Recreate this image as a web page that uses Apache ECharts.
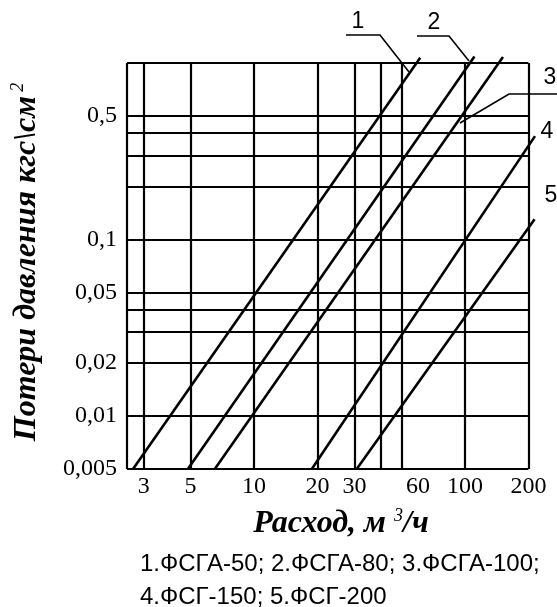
<!DOCTYPE html>
<html lang="ru">

<head>
    <meta charset="UTF-8">
    <title>Потери давления</title>
    <style>
        * {
            margin: 0;
            padding: 0;
        }

        body {
            background: #fff;
        }

        #chart {
            width: 557px;
            height: 607px;
        }
    </style>
</head>

<body>
    <div id="chart"></div>
    <script src="https://cdn.jsdelivr.net/npm/echarts@6.0.0/dist/echarts.min.js"></script>
    <script type="text/javascript">
        // расход, м3/ч и потери давления, кгс/см2 (начало и конец каждой прямой)
        var seriesNames = ['ФСГА-50', 'ФСГА-80', 'ФСГА-100', 'ФСГ-150', 'ФСГ-200'];
        var flow1 = [2.67, 61.4];
        var loss1 = [0.005, 1.07];
        var flow2 = [4.86, 111];
        var loss2 = [0.005, 1.09];
        var flow3 = [6.52, 151.5];
        var loss3 = [0.005, 1.08];
        var flow4 = [18.8, 215];
        var loss4 = [0.005, 0.385];
        var flow5 = [30.7, 214];
        var loss5 = [0.005, 0.13];

        // сетка и подписи осей
        var xGrid = [3, 5, 10, 20, 30, 40, 50, 100];
        var xTickLabels = [3, 5, 10, 20, 30, 60, 100, 200];
        var yGrid = [0.01, 0.02, 0.03, 0.04, 0.05, 0.1, 0.2, 0.3, 0.4, 0.5];
        var yTickLabels = [0.005, 0.01, 0.02, 0.05, 0.1, 0.5];
        // рамка поля графика
        var xFrame = [2.5, 200];
        var yFrame = [0.005, 1];

        var flows = [flow1, flow2, flow3, flow4, flow5];
        var losses = [loss1, loss2, loss3, loss4, loss5];

        var serif = 'Liberation Serif';
        var sans = 'Liberation Sans';

        var chart = echarts.init(document.getElementById('chart'));

        var series = seriesNames.map(function (name, i) {
            return {
                name: name,
                type: 'line',
                data: flows[i].map(function (q, j) { return [q, losses[i][j]]; }),
                symbol: 'none',
                clip: false,
                silent: true,
                lineStyle: { color: '#000', width: 2.6 }
            };
        });

        // рамка и горизонтальная сетка через markLine: линии 4 и 5 выходят за рамку справа
        var frameLines = [
            [{ coord: [xFrame[0], yFrame[1]] }, { coord: [xFrame[1], yFrame[1]] }],
            [{ coord: [xFrame[1], yFrame[0]] }, { coord: [xFrame[1], yFrame[1]] }],
            [{ coord: [xFrame[0], yFrame[0]] }, { coord: [xFrame[1], yFrame[0]] }],
            [{ coord: [xFrame[0], yFrame[0]] }, { coord: [xFrame[0], yFrame[1]] }]
        ];
        var hLines = yGrid.map(function (v) {
            return [{ coord: [xFrame[0], v] }, { coord: [xFrame[1], v] }];
        });
        series[0].markLine = {
            symbol: 'none',
            silent: true,
            label: { show: false },
            lineStyle: { color: '#000', width: 2.2, type: 'solid' },
            data: frameLines.concat(hLines)
        };

        // номера линий и выноски
        function num(text, x, y) {
            return {
                type: 'text', x: x, y: y,
                style: { text: text, font: '23px ' + sans, fill: '#000', align: 'center', verticalAlign: 'middle' }
            };
        }
        function leader(points) {
            return {
                type: 'polyline',
                shape: { points: points },
                style: { stroke: '#000', lineWidth: 1.6, fill: null }
            };
        }

        var option = {
            animation: false,
            backgroundColor: '#fff',
            grid: {
                left: 127, top: 63, width: 408, height: 406
            },
            xAxis: {
                type: 'log',
                min: 2.5,
                max: 215,
                name: '{b|Расход, м }{s|3}{b|/ч}',
                nameLocation: 'middle',
                nameGap: 38,
                nameTextStyle: {
                    padding: [0, 0, 0, 20],
                    rich: {
                        b: { fontFamily: serif, fontSize: 32, fontWeight: 'bold', fontStyle: 'italic', color: '#000' },
                        s: { fontFamily: serif, fontSize: 18, fontStyle: 'italic', color: '#000', padding: [0, 0, 16, 0] }
                    }
                },
                axisLine: { show: false },
                axisTick: { show: false, customValues: xGrid },
                splitLine: { show: true, lineStyle: { color: '#000', width: 2.2 } },
                axisLabel: {
                    customValues: xTickLabels,
                    fontFamily: serif, fontSize: 24, color: '#000', margin: 6
                }
            },
            yAxis: {
                type: 'log',
                min: 0.005,
                max: 1,
                name: '{b|Потери давления кгс\\см}{s|2}',
                nameLocation: 'middle',
                nameRotate: 90,
                nameGap: 82,
                nameTextStyle: {
                    padding: [0, 0, 0, 8],
                    rich: {
                        b: { fontFamily: serif, fontSize: 32, fontWeight: 'bold', fontStyle: 'italic', color: '#000' },
                        s: { fontFamily: serif, fontSize: 18, fontStyle: 'italic', color: '#000', padding: [0, 0, 18, 4] }
                    }
                },
                axisLine: { show: false },
                axisTick: { show: false },
                splitLine: { show: false },
                axisLabel: {
                    customValues: yTickLabels,
                    fontFamily: serif, fontSize: 24, color: '#000', margin: 10,
                    formatter: function (v) { return String(v).replace('.', ','); }
                }
            },
            series: series,
            graphic: [
                leader([[346, 35], [380, 35], [409, 72]]),
                leader([[417, 36], [449, 36], [469, 61]]),
                leader([[557, 94], [509, 94], [460, 123]]),
                num('1', 358, 22),
                num('2', 434, 23),
                num('3', 550, 78),
                num('4', 547, 132),
                num('5', 551, 196),
                {
                    type: 'text', left: 140, top: 548,
                    style: {
                        text: seriesNames.slice(0, 3).map(function (n, i) { return (i + 1) + '.' + n + ';'; }).join(' ') + '\n' +
                            seriesNames.slice(3).map(function (n, i) { return (i + 4) + '.' + n; }).join('; '),
                        font: '24px ' + sans, fill: '#000', lineHeight: 33
                    }
                }
            ]
        };

        chart.setOption(option);
    </script>
</body>

</html>
